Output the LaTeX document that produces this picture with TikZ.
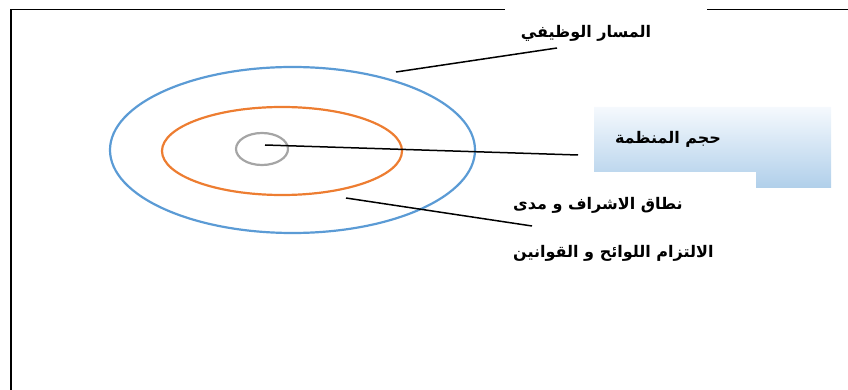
\documentclass[tikz,border=0pt]{standalone}
\usepackage{fontspec}
\newfontfamily\arabicfont[Script=Arabic]{DejaVu Sans}
\TeXXeTstate=1
\usetikzlibrary{shapes.geometric}

\definecolor{ringblue}{RGB}{91,155,213}
\definecolor{ringorange}{RGB}{237,125,49}
\definecolor{ringgray}{RGB}{165,165,165}
\definecolor{boxtop}{RGB}{245,249,253}
\definecolor{boxbottom}{RGB}{176,207,234}

\tikzset{
  ring/.style={draw, ellipse, line width=2.2pt, inner sep=0pt},
  arlabel/.style={font=\arabicfont\bfseries\fontsize{16}{18}\selectfont, inner sep=0pt},
  lead/.style={line width=1.5pt},
  frame/.style={line width=1.8pt}
}

\begin{document}
\begin{tikzpicture}[x=1pt, y=-1pt]
\useasboundingbox (0,0) rectangle (848,390);

% page frame
\draw[frame] (11,391) -- (11,9.5) -- (505,9.5);
\draw[frame] (707,9.5) -- (849,9.5);

% rings
\node[ring, draw=ringblue, minimum width=365, minimum height=166] (path) at (292.5,150) {};
\node[ring, draw=ringorange, minimum width=240, minimum height=88] (span) at (282,151) {};
\node[ring, draw=ringgray, minimum width=52, minimum height=32] (core) at (262,149) {};

% shaded box
\shade[top color=boxtop, bottom color=boxbottom]
  (594,107) -- (831,107) -- (831,188) -- (756,188) -- (756,172) -- (594,172) -- cycle;

% labels
\node[arlabel] (pathlab) at (586,33) {\beginR المسار الوظيفي\endR};
\node[arlabel] (sizelab) at (668,139) {\beginR حجم المنظمة\endR};
\node[arlabel, anchor=west] (spanlab) at (513,205) {\beginR نطاق الاشراف و مدى\endR};
\node[arlabel, anchor=west] (rulelab) at (513,253) {\beginR الالتزام اللوائح و القوانين\endR};

% leader lines
\coordinate (pathA) at (396,72);
\coordinate (pathB) at (557,48);
\coordinate (sizeA) at (265,145);
\coordinate (sizeB) at (578,155);
\coordinate (spanA) at (346,198);
\coordinate (spanB) at (532,226);
\draw[lead] (pathA) -- (pathB);
\draw[lead] (sizeA) -- (sizeB);
\draw[lead] (spanA) -- (spanB);
\end{tikzpicture}
\end{document}
